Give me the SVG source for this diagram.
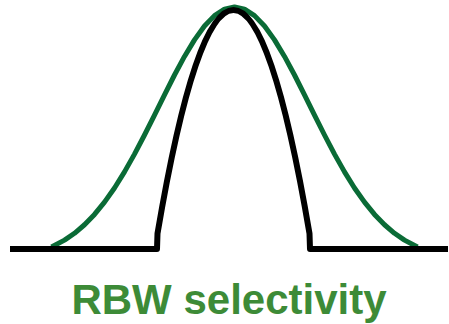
<svg xmlns="http://www.w3.org/2000/svg" width="449" height="324" viewBox="0 0 449 324">
<style>
.curve{fill:none;stroke-linejoin:round;stroke-linecap:butt}
.g{stroke:#0a6b36;stroke-width:5}
.k{stroke:#000;stroke-width:6}
.label{font-family:"Liberation Sans",Arial,sans-serif;font-weight:bold;font-size:42px;fill:#3d8b37;text-anchor:middle}
</style>
<rect width="449" height="324" fill="#fff"/>
<g id="connectors">
<polyline id="gaussian" class="curve g" points="51.5,247 64.5,240.16 74.5,233.28 84.5,224.75 94.5,214.41 104.5,202.16 114.5,187.95 124.5,171.86 134.5,154.11 144.5,135 154.5,115.03 164.5,94.8 174.5,75 184.5,56.43 194.5,39.85 204.5,26.03 214.5,15.64 224.5,9.18 234.5,7 244.5,9.18 254.5,15.64 264.5,26.03 274.5,39.85 284.5,56.43 294.5,75 304.5,94.8 314.5,115.03 324.5,135 334.5,154.11 344.5,171.86 354.5,187.95 364.5,202.16 374.5,214.41 384.5,224.75 394.5,233.28 404.5,240.16 417.5,247"/>
<path id="filter" class="curve k" d="M10,249 L157,249 L157.5,233.5 Q233.5,-213.5 309.5,233.5 L310,249 L448,249"/>
</g>
<g id="title">
<text class="label" x="229" y="314">RBW selectivity</text>
</g>
</svg>
